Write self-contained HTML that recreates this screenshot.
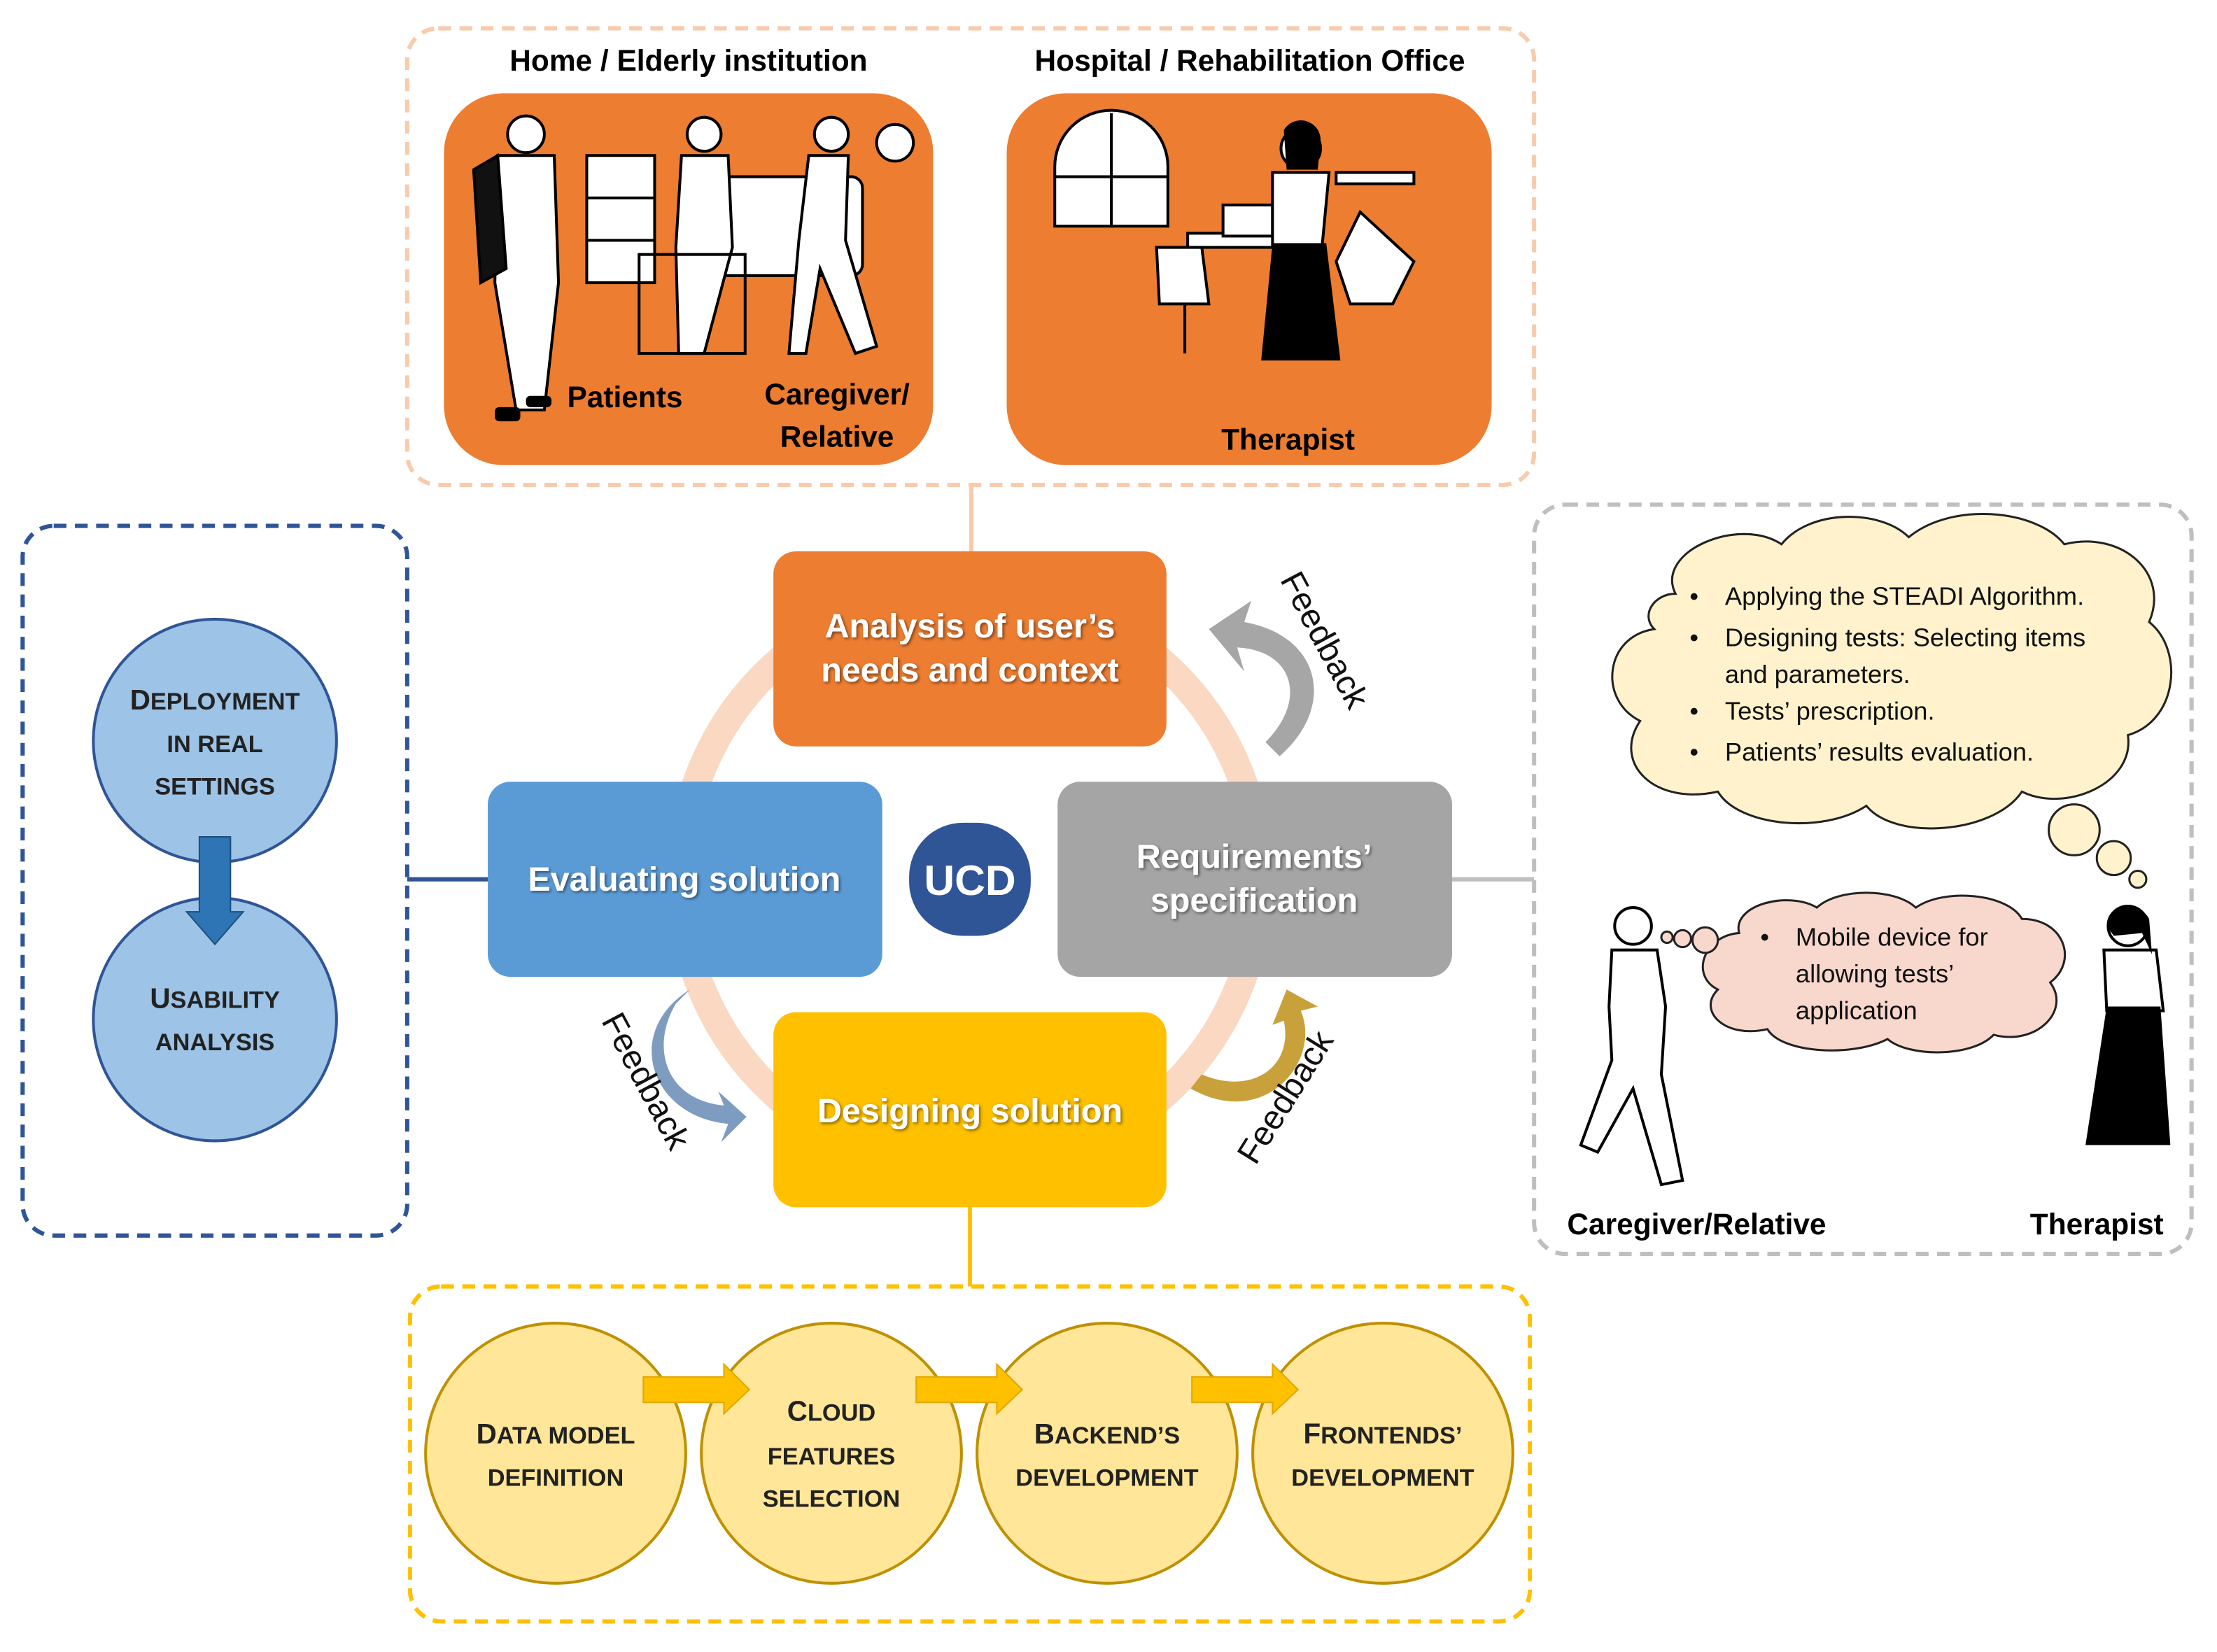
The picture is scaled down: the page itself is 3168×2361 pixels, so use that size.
<!DOCTYPE html>
<html><head><meta charset="utf-8"><style>
html,body{margin:0;padding:0;background:#fff}
svg{display:block}
text{font-family:"Liberation Sans",sans-serif}
.t{font-weight:bold;font-size:21px;fill:#000;text-anchor:middle}
.w{font-weight:bold;font-size:24px;fill:#fff;text-anchor:middle}
.sc{font-weight:bold;font-size:17px;fill:#222;text-anchor:middle}
.b{font-size:18px;fill:#111}
.fb{font-size:24px;fill:#111}
</style></head><body>
<svg width="3168" height="2361" viewBox="0 0 1568 1168.6" preserveAspectRatio="none" xmlns="http://www.w3.org/2000/svg">
<defs>
<filter id="sh"><feDropShadow dx="1" dy="1" stdDeviation="1" flood-color="#000" flood-opacity="0.5"/></filter>
</defs>
<!-- top dashed -->
<rect x="288" y="20" width="797" height="323" rx="22" fill="none" stroke="#f8cbad" stroke-width="3" stroke-dasharray="9,6"/>
<text class="t" x="487" y="50">Home / Elderly institution</text>
<text class="t" x="884" y="50">Hospital / Rehabilitation Office</text>
<rect x="314" y="66" width="346" height="263" rx="42" fill="#ed7d31"/>
<rect x="712" y="66" width="343" height="263" rx="42" fill="#ed7d31"/>
<!-- simple illustration shapes panel 1 -->
<g fill="#fff" stroke="#000" stroke-width="2">
<rect x="490" y="125" width="120" height="70" rx="8"/>
<rect x="415" y="110" width="48" height="90"/>
<line x1="415" y1="140" x2="463" y2="140"/><line x1="415" y1="170" x2="463" y2="170"/>
<circle cx="633" cy="101" r="13"/>
<circle cx="372" cy="95" r="13"/>
<path d="M352 110 L392 110 L395 200 L385 290 L365 290 L350 200 Z" fill="#fff"/>
<path d="M335 120 L352 110 L358 190 L340 200 Z" fill="#111"/>
<circle cx="498" cy="95" r="12"/>
<path d="M482 110 L515 110 L518 175 L498 250 L480 250 L478 175 Z"/>
<rect x="452" y="180" width="75" height="70" fill="none"/>
<circle cx="588" cy="95" r="12"/>
<path d="M572 110 L600 110 L598 170 L620 245 L605 250 L580 190 L570 250 L558 250 L565 170 Z"/>
</g>
<g fill="#000">
<rect x="350" y="288" width="18" height="10" rx="3"/><rect x="372" y="280" width="18" height="8" rx="3"/>
</g>
<text class="t" x="442" y="288">Patients</text>
<text class="t" x="592" y="286">Caregiver/</text>
<text class="t" x="592" y="316">Relative</text>
<!-- panel 2 shapes -->
<g fill="#fff" stroke="#000" stroke-width="2">
<path d="M746 160 L746 118 A40 40 0 0 1 826 118 L826 160 Z"/>
<line x1="786" y1="80" x2="786" y2="160"/><line x1="746" y1="125" x2="826" y2="125"/>
<rect x="945" y="122" width="55" height="8"/>
<rect x="840" y="165" width="90" height="10"/>
<rect x="865" y="145" width="35" height="22"/>
<path d="M818 175 L850 175 L855 215 L820 215 Z"/>
<line x1="838" y1="215" x2="838" y2="250"/>
<circle cx="920" cy="105" r="14"/>
<path d="M900 122 L940 122 L935 175 L900 175 Z"/>
<path d="M962 150 L1000 185 L985 215 L955 215 L945 185 Z"/>
</g>
<path d="M900 172 L938 172 L948 255 L892 255 Z" fill="#000"/>
<path d="M908 92 A14 14 0 0 1 934 98 L932 120 L910 120 Z" fill="#000"/>
<text class="t" x="911" y="318">Therapist</text>
<!-- ring -->
<circle cx="686" cy="622" r="205" fill="none" stroke="#f8cbad" stroke-width="20" opacity="0.75"/>
<!-- connectors -->
<line x1="687" y1="343" x2="687" y2="390" stroke="#f8cbad" stroke-width="3"/>
<line x1="288" y1="622" x2="345" y2="622" stroke="#2f5597" stroke-width="3"/>
<line x1="1027" y1="622" x2="1085" y2="622" stroke="#bfbfbf" stroke-width="3"/>
<line x1="686" y1="854" x2="686" y2="910" stroke="#ffc000" stroke-width="3"/>
<!-- boxes -->
<rect x="547" y="390" width="278" height="138" rx="16" fill="#ed7d31"/>
<text class="w" x="686" y="451" filter="url(#sh)">Analysis of user’s</text>
<text class="w" x="686" y="482" filter="url(#sh)">needs and context</text>
<rect x="345" y="553" width="279" height="138" rx="16" fill="#5b9bd5"/>
<text class="w" x="484" y="630" filter="url(#sh)">Evaluating solution</text>
<rect x="748" y="553" width="279" height="138" rx="16" fill="#a5a5a5"/>
<text class="w" x="887" y="614" filter="url(#sh)">Requirements’</text>
<text class="w" x="887" y="645" filter="url(#sh)">specification</text>
<rect x="547" y="716" width="278" height="138" rx="16" fill="#ffc000"/>
<text class="w" x="686" y="794" filter="url(#sh)">Designing solution</text>
<rect x="643" y="582" width="86" height="80" rx="38" fill="#2f5597"/>
<text x="686" y="633" text-anchor="middle" font-weight="bold" font-size="30" fill="#fff">UCD</text>
<!-- feedback arrows -->
<path d="M880 440 C935 450 945 500 905 535 L895 525 C925 495 915 460 875 458 L880 475 L855 445 L885 425 Z" fill="#a6a6a6"/>
<path d="M488 700 C440 730 460 790 515 795 L510 808 L528 790 L508 772 L512 782 C470 778 460 740 478 710 Z" fill="#7e9cc0"/>
<path d="M842 770 C895 800 935 750 920 715 L932 712 L910 700 L900 725 L908 722 C915 755 885 775 850 760 Z" fill="#c9a13a"/>
<text class="fb" transform="translate(905 410) rotate(62)">Feedback</text>
<text class="fb" transform="translate(425 722) rotate(62)">Feedback</text>
<text class="fb" transform="translate(888 825) rotate(-58)">Feedback</text>
<!-- left box -->
<rect x="16" y="372" width="272" height="502" rx="22" fill="none" stroke="#2f5597" stroke-width="3" stroke-dasharray="9,6"/>
<circle cx="152" cy="524" r="86" fill="#9dc3e6" stroke="#2f5597" stroke-width="2"/>
<circle cx="152" cy="721" r="86" fill="#9dc3e6" stroke="#2f5597" stroke-width="2"/>
<path d="M141 592 L163 592 L163 645 L172 645 L152 668 L132 645 L141 645 Z" fill="#2e75b6" stroke="#1f4e79"/>
<text class="sc" x="152" y="502"><tspan font-size="20">D</tspan>EPLOYMENT</text>
<text class="sc" x="152" y="532">IN REAL</text>
<text class="sc" x="152" y="562">SETTINGS</text>
<text class="sc" x="152" y="713"><tspan font-size="20">U</tspan>SABILITY</text>
<text class="sc" x="152" y="743">ANALYSIS</text>
<!-- right box -->
<rect x="1085" y="357" width="465" height="530" rx="22" fill="none" stroke="#bfbfbf" stroke-width="3" stroke-dasharray="9,6"/>
<path d="M1185 420 C1170 390 1230 365 1260 385 C1280 360 1330 360 1350 380 C1380 355 1440 360 1460 385 C1500 375 1535 405 1520 440 C1545 460 1540 510 1505 520 C1510 555 1460 575 1430 560 C1410 590 1340 595 1320 570 C1290 590 1230 585 1215 560 C1170 570 1140 540 1160 510 C1130 495 1135 450 1170 445 C1160 435 1170 420 1185 420 Z" fill="#fff2cc" stroke="#222" stroke-width="1.5"/>
<circle cx="1467" cy="587" r="18" fill="#fff2cc" stroke="#222" stroke-width="1.5"/>
<circle cx="1495" cy="607" r="12" fill="#fff2cc" stroke="#222" stroke-width="1.5"/>
<circle cx="1512" cy="622" r="6" fill="#fff2cc" stroke="#222" stroke-width="1.5"/>
<text class="b" x="1195" y="428">•</text><text class="b" x="1220" y="428">Applying the STEADI Algorithm.</text>
<text class="b" x="1195" y="457">•</text><text class="b" x="1220" y="457">Designing tests: Selecting items</text>
<text class="b" x="1220" y="483">and parameters.</text>
<text class="b" x="1195" y="509">•</text><text class="b" x="1220" y="509">Tests’ prescription.</text>
<text class="b" x="1195" y="538">•</text><text class="b" x="1220" y="538">Patients’ results evaluation.</text>
<path d="M1230 660 C1225 640 1265 630 1285 642 C1300 628 1340 628 1355 642 C1375 628 1420 632 1430 650 C1460 650 1470 680 1450 695 C1465 715 1440 740 1410 732 C1395 748 1350 748 1335 735 C1310 748 1260 745 1250 728 C1220 735 1200 715 1215 700 C1195 690 1205 662 1230 660 Z" fill="#f8d7cc" stroke="#222" stroke-width="1.5"/>
<circle cx="1206" cy="665" r="9" fill="#f8d7cc" stroke="#222" stroke-width="1.5"/>
<circle cx="1190" cy="664" r="6" fill="#f8d7cc" stroke="#222" stroke-width="1.5"/>
<circle cx="1179" cy="663" r="4" fill="#f8d7cc" stroke="#222" stroke-width="1.5"/>
<text class="b" x="1245" y="669">•</text><text class="b" x="1270" y="669">Mobile device for</text>
<text class="b" x="1270" y="695">allowing tests’</text>
<text class="b" x="1270" y="721">application</text>
<!-- figures -->
<g fill="#fff" stroke="#000" stroke-width="2">
<circle cx="1155" cy="655" r="13"/>
<path d="M1140 672 L1172 672 L1178 712 L1175 760 L1190 835 L1175 838 L1155 770 L1130 815 L1118 810 L1140 750 L1138 712 Z"/>
<circle cx="1505" cy="655" r="14"/>
<path d="M1488 672 L1525 672 L1530 715 L1490 715 Z"/>
</g>
<path d="M1490 712 L1528 712 L1535 810 L1475 810 Z" fill="#000"/>
<path d="M1490 655 A16 16 0 0 1 1520 650 L1522 675 L1515 660 L1495 662 Z" fill="#000"/>
<text class="t" x="1200" y="873">Caregiver/Relative</text>
<text class="t" x="1483" y="873">Therapist</text>
<!-- bottom box -->
<rect x="290" y="910" width="792" height="237" rx="22" fill="none" stroke="#ffc000" stroke-width="3" stroke-dasharray="9,6"/>
<g fill="#ffe699" stroke="#bf9000" stroke-width="2">
<circle cx="393" cy="1028" r="92"/><circle cx="588" cy="1028" r="92"/>
<circle cx="783" cy="1028" r="92"/><circle cx="978" cy="1028" r="92"/>
</g>
<g fill="#ffc000" stroke="#e0a800">
<path d="M455 974 L512 974 L512 965 L530 983 L512 1000 L512 992 L455 992 Z"/>
<path d="M648 974 L705 974 L705 965 L723 983 L705 1000 L705 992 L648 992 Z"/>
<path d="M843 974 L900 974 L900 965 L918 983 L900 1000 L900 992 L843 992 Z"/>
</g>
<text class="sc" x="393" y="1021"><tspan font-size="20">D</tspan>ATA MODEL</text>
<text class="sc" x="393" y="1051">DEFINITION</text>
<text class="sc" x="588" y="1005"><tspan font-size="20">C</tspan>LOUD</text>
<text class="sc" x="588" y="1036">FEATURES</text>
<text class="sc" x="588" y="1066">SELECTION</text>
<text class="sc" x="783" y="1021"><tspan font-size="20">B</tspan>ACKEND’S</text>
<text class="sc" x="783" y="1051">DEVELOPMENT</text>
<text class="sc" x="978" y="1021"><tspan font-size="20">F</tspan>RONTENDS’</text>
<text class="sc" x="978" y="1051">DEVELOPMENT</text>
</svg>
</body></html>
